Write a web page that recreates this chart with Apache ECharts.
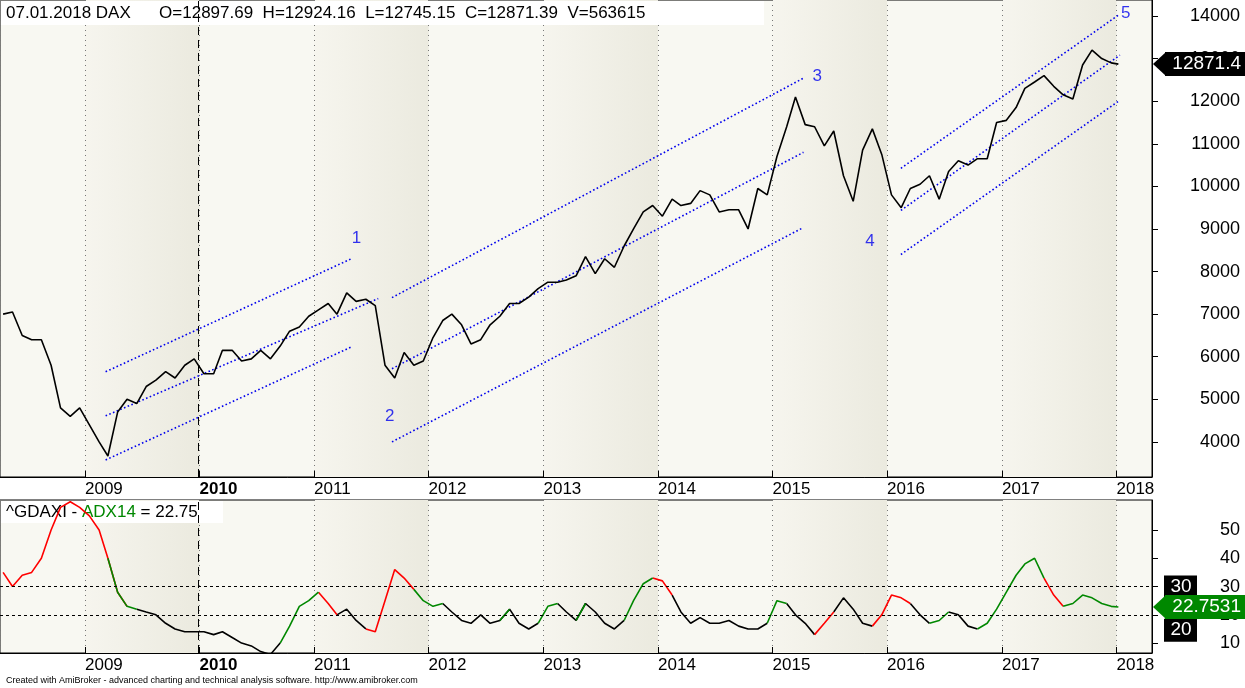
<!DOCTYPE html>
<html>
<head>
<meta charset="UTF-8">
<title>DAX</title>
<script src="https://cdn.jsdelivr.net/npm/echarts@6/dist/echarts.min.js"></script>
<style>body{margin:0;background:#fff}#main{width:1245px;height:688px}</style>
</head>
<body>
<div id="main"></div>
<script>
// monthly closes, Apr 2008 .. Jan 2018
var price = [
  7000, 7050, 6500, 6400, 6400, 5800, 4800, 4600, 4800,
  4400, 4000, 3670, 4700, 5000, 4900, 5300, 5450, 5650, 5500, 5800, 5950,
  5600, 5600, 6150, 6150, 5900, 5950, 6150, 5950, 6250, 6600, 6700, 6950,
  7100, 7250, 7000, 7500, 7300, 7350, 7200, 5800, 5500, 6100, 5800, 5900,
  6450, 6850, 7000, 6750, 6300, 6400, 6750, 6950, 7250, 7250, 7400, 7600,
  7750, 7750, 7800, 7900, 8350, 7950, 8300, 8100, 8600, 9000, 9400, 9550,
  9300, 9700, 9550, 9600, 9900, 9800, 9400, 9450, 9450, 9000, 9950, 9800,
  10700, 11400, 12100, 11450, 11400, 10950, 11300, 10250, 9650, 10850, 11350, 10750,
  9800, 9500, 9950, 10050, 10250, 9700, 10350, 10600, 10500, 10650, 10650, 11500,
  11550, 11850, 12300, 12450, 12600, 12350, 12150, 12050, 12850, 13200, 13000, 12900,
  12871
];
var adx = [
  35, 30, 34, 35, 40, 50, 58, 60, 58,
  55, 50, 40, 28, 23, 22, 21, 20, 17, 15, 14, 14,
  14, 13, 14, 12, 10, 9, 7, 6, 10, 16, 23, 25,
  28, 24, 20, 22, 18, 15, 14, 25, 36, 33, 29, 25,
  23, 24, 21, 18, 17, 20, 17, 18, 22, 17, 15, 17,
  23, 24, 21, 18, 24, 21, 17, 15, 18, 25, 31, 33,
  32, 27, 21, 17, 19, 17, 17, 18, 16, 15, 15, 17,
  25, 24, 20, 17, 13, 17, 21, 26, 22, 17, 16, 20,
  27, 26, 24, 20, 17, 18, 21, 20, 16, 15, 17, 22,
  28, 34, 38, 40, 33, 27, 23, 24, 27, 26, 24, 23,
  22.75
];
var adxColor = (
  'rrrrrrrrr' + 'rrrgrgkkkkkk' + 'kkkkkkkkkggg' + 'grrkkkrrrrrg' + 'ggkkkkkkgkkk' +
  'ggkkgkkkkggg' + 'rrkkkkkkkkkk' + 'ggkkkrrkkkkr' + 'rrrkkggkkkgg' + 'gggggrrggggg' + 'g'
).split('');
var channels = [
  [[2009.18, 5647], [2011.33, 8306]],
  [[2009.18, 4612], [2011.56, 7365]],
  [[2009.18, 3576], [2011.33, 6235]],
  [[2011.68, 7388], [2015.27, 12541]],
  [[2011.68, 5718], [2015.27, 10800]],
  [[2011.68, 4000], [2015.27, 9035]],
  [[2016.12, 10424], [2018.03, 14047]],
  [[2016.12, 9435], [2018.03, 13082]],
  [[2016.12, 8400], [2018.03, 12024]]
];
var waveLabels = [
  ['1', 2011.37, 8780], ['2', 2011.66, 4600], ['3', 2015.39, 12580],
  ['4', 2015.85, 8710], ['5', 2018.08, 14060]
];

function monthDate(i) { return new Date(2008, 3 + i, 15).getTime(); }
function yearTime(y) {
  var yr = Math.floor(y);
  var s = new Date(yr, 0, 1).getTime(), e = new Date(yr + 1, 0, 1).getTime();
  return s + (y - yr) * (e - s);
}
var dates = price.map(function (v, i) { return i === price.length - 1 ? new Date(2018, 0, 7).getTime() : monthDate(i); });
var pricePts = price.map(function (v, i) { return [dates[i], v]; });

function adxSeries(c, color) {
  var d = adx.map(function (v, i) {
    var on = adxColor[i] === c || adxColor[i + 1] === c;
    return [dates[i], on ? v : null];
  });
  return { type: 'line', xAxisIndex: 1, yAxisIndex: 1, data: d, symbol: 'none', connectNulls: false,
    lineStyle: { color: color, width: 1.6 }, silent: true, z: 3 };
}

var font = 'Liberation Sans, Arial, sans-serif';
var shade = new echarts.graphic.LinearGradient(0, 0, 1, 0, [
  { offset: 0, color: '#f6f5ee' }, { offset: 1, color: '#ebeadf' }]);
function xAx(idx) {
  return {
    type: 'time', gridIndex: idx,
    min: yearTime(2008.26), max: yearTime(2018.31),
    minInterval: 360 * 864e5, maxInterval: 370 * 864e5,
    axisLine: { onZero: false, lineStyle: { color: '#000' } },
    axisTick: { show: true, length: 6, inside: true, lineStyle: { color: '#000' } },
    axisLabel: {
      color: '#000', fontFamily: font, fontSize: 17, align: 'left', margin: 4,
      formatter: function (v) {
        var y = new Date(v).getFullYear();
        return y === 2010 ? '{b|' + y + '}' : '{a|' + y + '}';
      },
      rich: { a: { fontSize: 17, fontFamily: font, color: '#000' },
              b: { fontSize: 17, fontFamily: font, color: '#000', fontWeight: 'bold' } }
    },
    splitLine: { show: true, lineStyle: { color: '#777', type: [1, 4] } },
    splitArea: { show: true, areaStyle: { color: ['rgba(0,0,0,0)', shade] } }
  };
}
function yAx(idx, min, max, ticks) {
  return {
    type: 'value', gridIndex: idx, position: 'right', min: min, max: max,
    axisLine: { show: true, lineStyle: { color: '#000' } },
    axisTick: { show: true, length: 6, lineStyle: { color: '#000' }, customValues: ticks },
    axisLabel: { color: '#000', fontFamily: font, fontSize: 18, margin: 88, align: 'right',
      customValues: ticks, formatter: function (v) { return String(v); } },
    splitLine: { show: false }
  };
}

var series = [{
  type: 'line', data: pricePts, symbol: 'none', lineStyle: { color: '#000', width: 1.6 }, z: 4,
  markLine: { silent: true, symbol: 'none', label: { show: false },
    lineStyle: { color: '#000', type: [8, 5], width: 1 },
    data: [{ xAxis: yearTime(2009.99) }] }
}];
channels.forEach(function (c) {
  series.push({ type: 'line', data: c.map(function (p) { return [yearTime(p[0]), p[1]]; }),
    symbol: 'none', silent: true, lineStyle: { color: '#0000ee', width: 1.6, type: [1.6, 2.4] }, z: 3 });
});
series.push({ type: 'scatter', symbolSize: 0, silent: true,
  data: waveLabels.map(function (w) { return { value: [yearTime(w[1]), w[2]], name: w[0] }; }),
  label: { show: true, formatter: '{b}', color: '#0000ee', fontSize: 17, fontFamily: font, position: 'inside' } });
series.push(adxSeries('k', '#000'), adxSeries('r', '#ff0000'), adxSeries('g', '#008800'));
series.push({ type: 'line', xAxisIndex: 1, yAxisIndex: 1, data: [], silent: true,
  markLine: { silent: true, symbol: 'none', label: { show: false },
    data: [{ yAxis: 30, lineStyle: { color: '#000', type: [3, 3], width: 1 } },
           { yAxis: 20, lineStyle: { color: '#000', type: [3, 3], width: 1 } },
           { xAxis: yearTime(2009.99), lineStyle: { color: '#000', type: [8, 5], width: 1 } }] } });

var chart = echarts.init(document.getElementById('main'));
chart.setOption({
  animation: false,
  backgroundColor: '#fff',
  grid: [
    { left: 0, right: 93, top: 0, height: 477, show: true, backgroundColor: '#f8f8f2', borderColor: '#000', borderWidth: 1 },
    { left: 0, right: 93, top: 500, height: 153, show: true, backgroundColor: '#f8f8f2', borderColor: '#000', borderWidth: 1 }
  ],
  xAxis: [xAx(0), xAx(1)],
  yAxis: [
    yAx(0, 3176, 14376, [4000, 5000, 6000, 7000, 8000, 9000, 10000, 11000, 12000, 13000, 14000]),
    yAx(1, 6.5, 60.6, [10, 20, 30, 40, 50])
  ],
  series: series
});

// price tags on the right axis; shift keeps the 20 box clear of the current-value tag
function tag(text, value, axis, bg, arrow, shift) {
  var p = chart.convertToPixel({ yAxisIndex: axis }, value) + (shift || 0);
  var el = [];
  if (arrow) {
    el.push({ type: 'polygon', shape: { points: [[1153, p], [1166, p - 12], [1166, p + 12]] }, style: { fill: bg } });
    el.push({ type: 'rect', shape: { x: 1165, y: p - 12, width: 80, height: 24 }, style: { fill: bg } });
    el.push({ type: 'text', x: 1241, y: p, style: { text: text, fill: '#fff', font: '19px ' + font, align: 'right', verticalAlign: 'middle' } });
  } else {
    el.push({ type: 'rect', shape: { x: 1164, y: p - 11, width: 33, height: 23 }, style: { fill: bg } });
    el.push({ type: 'text', x: 1181, y: p, style: { text: text, fill: '#fff', font: '19px ' + font, align: 'center', verticalAlign: 'middle' } });
  }
  el.forEach(function (e) { e.z = 100; });
  return el;
}
var g = [];
g = g.concat(tag('30', 30, 1, '#000', false), tag('20', 20, 1, '#000', false, 15));
g = g.concat(tag('12871.4', 12871.4, 0, '#000', true), tag('22.7531', 22.7531, 1, '#008800', true));
g.push({ type: 'rect', shape: { x: 1, y: 1, width: 763, height: 24 }, style: { fill: '#fff' } });
g.push({ type: 'text', x: 6, y: 13, style: { text: '07.01.2018 DAX      O=12897.69  H=12924.16  L=12745.15  C=12871.39  V=563615', fill: '#000', font: '17px ' + font, verticalAlign: 'middle' } });
g.push({ type: 'rect', shape: { x: 1, y: 501, width: 222, height: 22 }, style: { fill: '#fff' } });
g.push({ type: 'text', x: 6, y: 512, style: {
  text: '{a|^GDAXI - }{g|ADX14}{a| = 22.75}', verticalAlign: 'middle',
  rich: { a: { fill: '#000', font: '17px ' + font }, g: { fill: '#008800', font: '17px ' + font } } } });
g.push({ type: 'text', x: 6, y: 681, style: { text: 'Created with AmiBroker - advanced charting and technical analysis software. http://www.amibroker.com', fill: '#000', font: '9px ' + font, verticalAlign: 'middle' } });
chart.setOption({ graphic: g });
</script>
</body>
</html>
